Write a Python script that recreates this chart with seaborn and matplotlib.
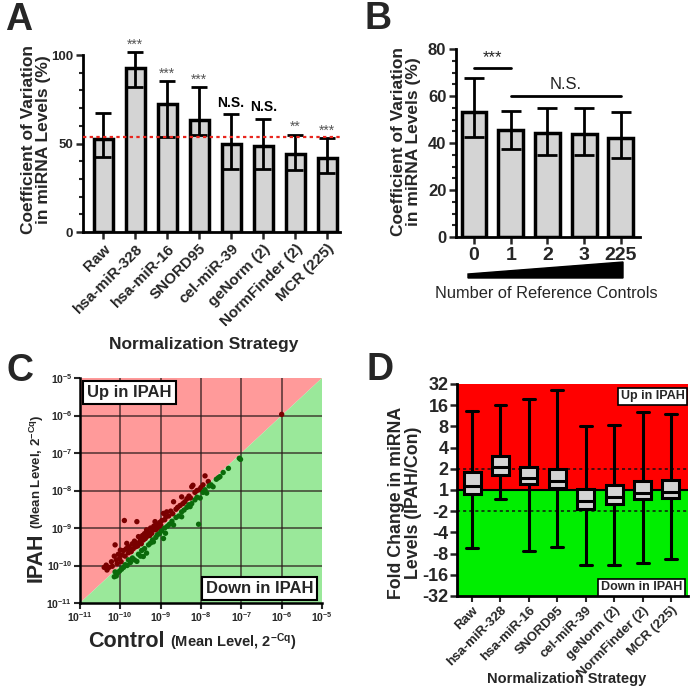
import numpy as np
import pandas as pd
import matplotlib
matplotlib.use('Agg')
import matplotlib.pyplot as plt
import seaborn as sns
from matplotlib.patches import Polygon
from matplotlib.ticker import MultipleLocator, FixedLocator, NullLocator

sns.set_theme(style='ticks')
plt.rcParams['font.family'] = ['Liberation Sans', 'DejaVu Sans']
plt.rcParams['mathtext.fontset'] = 'custom'
plt.rcParams['mathtext.rm'] = 'Liberation Sans'
plt.rcParams['mathtext.bf'] = 'Liberation Sans:bold'
plt.rcParams['mathtext.it'] = 'Liberation Sans:italic'

# ---------------- data ----------------
a_cats = ['Raw', 'hsa-miR-328', 'hsa-miR-16', 'SNORD95', 'cel-miR-39',
          'geNorm (2)', 'NormFinder (2)', 'MCR (225)']
a_cv = [52.8, 92.4, 72.2, 63.5, 49.8, 48.6, 43.9, 42.0]
a_lo = [42.4, 82.0, 53.7, 54.7, 35.5, 35.5, 34.9, 33.3]
a_hi = [67.0, 101.5, 85.2, 81.8, 66.6, 63.9, 55.0, 53.0]
a_sig = ['', '***', '***', '***', 'N.S.', 'N.S.', '**', '***']
a_ref = 53.5

b_cats = ['0', '1', '2', '3', '225']
b_cv = [53.4, 45.6, 44.1, 43.8, 42.3]
b_lo = [42.7, 37.3, 34.9, 34.9, 33.5]
b_hi = [67.6, 53.8, 55.1, 54.8, 53.1]

# log10 mean levels (control, IPAH)
up_ctrl = [-10.40, -10.35, -10.33, -10.28, -10.22, -10.20, -10.15, -10.13, -10.10, -10.08,
           -10.05, -10.02, -10.00, -9.98, -9.95, -9.92, -9.90, -9.88, -9.85, -9.84,
           -9.80, -9.78, -9.75, -9.73, -9.70, -9.68, -9.65, -9.62, -9.60, -9.59,
           -9.57, -9.55, -9.52, -9.50, -9.48, -9.45, -9.43, -9.40, -9.38, -9.35,
           -9.33, -9.30, -9.27, -9.25, -9.22, -9.20, -9.17, -9.14, -9.12, -9.10,
           -9.07, -9.05, -9.02, -9.00, -8.97, -8.93, -8.90, -8.87, -8.85, -8.80,
           -8.75, -8.70, -8.68, -8.62, -8.58, -8.52, -8.48, -8.45, -8.40, -8.35,
           -8.30, -8.26, -8.23, -8.20, -8.15, -8.10, -8.04, -8.00, -7.95, -7.90,
           -7.82, -6.00]
up_ipah = [-10.05, -9.99, -10.12, -10.05, -9.90, -10.02, -9.75, -9.45, -9.85, -9.95,
           -9.70, -9.82, -9.59, -9.90, -9.72, -9.60, -8.80, -9.75, -9.55, -9.41,
           -9.66, -9.50, -9.60, -9.63, -9.42, -9.55, -9.35, -9.50, -9.40, -8.83,
           -9.48, -9.23, -9.38, -9.30, -9.42, -9.20, -9.32, -9.15, -9.28, -9.05,
           -9.22, -9.12, -9.20, -9.00, -9.14, -9.05, -8.95, -8.83, -9.05, -8.97,
           -8.90, -9.00, -8.85, -8.92, -8.80, -8.61, -8.78, -8.70, -8.57, -8.68,
           -8.55, -8.62, -8.30, -8.50, -8.45, -8.40, -8.17, -8.35, -8.30, -8.22,
           -8.15, -8.20, -7.90, -7.86, -8.05, -8.00, -7.98, -7.92, -7.85, -7.61,
           -7.76, -5.97]
down_ctrl = [-10.15, -10.13, -10.10, -10.07, -10.02, -9.97, -9.92, -9.88, -9.83, -9.80,
             -9.75, -9.70, -9.65, -9.59, -9.55, -9.50, -9.47, -9.43, -9.40, -9.35,
             -9.30, -9.25, -9.20, -9.18, -9.12, -9.08, -9.03, -8.98, -8.93, -8.90,
             -8.88, -8.83, -8.78, -8.72, -8.68, -8.62, -8.55, -8.48, -8.48, -8.42,
             -8.35, -8.30, -8.27, -8.23, -8.15, -8.10, -8.06, -8.02, -7.95, -7.90,
             -7.86, -7.80, -7.75, -7.70, -7.62, -7.57, -7.53, -7.45, -7.32, -7.05,
             -7.02]
down_ipah = [-10.30, -10.17, -10.28, -10.20, -10.15, -10.10, -10.05, -9.98, -10.00, -9.85,
             -9.92, -9.80, -9.85, -9.89, -9.70, -9.75, -9.60, -9.76, -9.55, -9.67,
             -9.45, -9.40, -9.32, -9.37, -9.25, -9.18, -9.15, -9.08, -9.28, -9.00,
             -9.14, -8.95, -8.90, -8.82, -8.92, -8.72, -8.68, -8.70, -8.57, -8.52,
             -8.45, -8.38, -8.43, -8.35, -8.25, -8.18, -8.90, -8.20, -8.05, -7.98,
             -8.07, -7.88, -7.85, -7.90, -7.70, -7.66, -7.63, -7.52, -7.41, -7.14,
             -7.17]

d_cats = a_cats
# five-number summaries in log2 fold change: min, q1, median, q3, max
d_min = [-2.72, -0.42, -2.86, -2.70, -3.54, -3.54, -3.44, -3.27]
d_q1 = [-0.20, 0.72, 0.27, 0.11, -0.90, -0.67, -0.41, -0.36]
d_med = [0.20, 1.10, 0.55, 0.41, -0.52, -0.32, -0.13, -0.11]
d_q3 = [0.83, 1.60, 1.07, 0.98, 0.06, 0.24, 0.44, 0.47]
d_max = [3.74, 4.00, 4.29, 4.70, 3.02, 3.07, 3.66, 3.57]
d_ticklabels = ['-32', '-16', '-8', '-4', '-2', '1', '2', '4', '8', '16', '32']

# ---------------- figure ----------------
W, H = 693, 691
fig = plt.figure(figsize=(W / 100, H / 100), dpi=100)


def ax_px(l, t, r, b):
    return fig.add_axes([l / W, 1 - b / H, (r - l) / W, (b - t) / H])


def ftxt(x, y, s, **kw):
    return fig.text(x / W, 1 - y / H, s, **kw)


def style_spines(ax, lw=2.0):
    for s in ['top', 'right']:
        ax.spines[s].set_visible(False)
    for s in ['left', 'bottom']:
        ax.spines[s].set_color('black')
        ax.spines[s].set_linewidth(lw)


GRAY = '#d4d4d4'

# ---------------- Panel A ----------------
axA = ax_px(83, 55, 340, 232)
dfA = pd.DataFrame({'cat': a_cats, 'cv': a_cv})
sns.barplot(data=dfA, x='cat', y='cv', ax=axA, color=GRAY, edgecolor='black',
            linewidth=2.5, width=0.6, errorbar=None, saturation=1)
xa = np.arange(len(a_cats))
axA.errorbar(xa, a_cv, yerr=[np.array(a_cv) - np.array(a_lo), np.array(a_hi) - np.array(a_cv)],
             fmt='none', ecolor='black', elinewidth=2, capsize=6, capthick=2, clip_on=False, zorder=3)
axA.axhline(a_ref, color='#e8261e', ls=(0, (1.5, 1.5)), lw=1.6, zorder=4)
axA.set_ylim(0, 100)
axA.set_xlim(-0.63, 7.4)
axA.yaxis.set_major_locator(FixedLocator([0, 50, 100]))
axA.yaxis.set_minor_locator(MultipleLocator(10))
style_spines(axA)
axA.tick_params(axis='y', which='major', length=5, width=1.8, labelsize=9.5, pad=2)
axA.tick_params(axis='y', which='minor', length=3, width=1.5)
axA.tick_params(axis='x', length=5, width=1.8, pad=2)
for lab in axA.get_yticklabels():
    lab.set_fontweight('bold')
axA.set_xticks(xa)
axA.set_xticklabels(a_cats, rotation=45, ha='right', rotation_mode='anchor',
                    fontsize=11, fontweight='bold')
axA.set_xlabel('')
axA.set_ylabel('')
for i, s in enumerate(a_sig):
    if not s:
        continue
    if s == 'N.S.':
        axA.text(i, a_hi[i] + 2.5, s, ha='center', va='bottom', fontsize=10,
                 fontweight='bold', color='black')
    else:
        axA.text(i, a_hi[i] + 0.5, s, ha='center', va='bottom', fontsize=10,
                 color='#555555')
ftxt(36, 140, 'Coefficient of Variation\nin miRNA Levels (%)', rotation=90, ha='center',
     va='center', fontsize=12.5, fontweight='bold', linespacing=1.05)
ftxt(204, 345, 'Normalization Strategy', ha='center', va='center', fontsize=12.5,
     fontweight='bold')

# ---------------- Panel B ----------------
axB = ax_px(456, 49, 640, 237)
dfB = pd.DataFrame({'n': b_cats, 'cv': b_cv})
sns.barplot(data=dfB, x='n', y='cv', ax=axB, color=GRAY, edgecolor='black',
            linewidth=2.5, width=0.68, errorbar=None, saturation=1)
xb = np.arange(len(b_cats))
axB.errorbar(xb, b_cv, yerr=[np.array(b_cv) - np.array(b_lo), np.array(b_hi) - np.array(b_cv)],
             fmt='none', ecolor='black', elinewidth=2, capsize=7, capthick=2, zorder=3)
axB.set_ylim(0, 80)
axB.set_xlim(-0.49, 4.52)
axB.yaxis.set_major_locator(MultipleLocator(20))
axB.yaxis.set_minor_locator(MultipleLocator(5))
style_spines(axB)
axB.tick_params(axis='y', which='major', length=5, width=1.8, labelsize=12, pad=2)
axB.tick_params(axis='y', which='minor', length=3, width=1.5)
axB.tick_params(axis='x', length=5, width=1.8, labelsize=14, pad=2)
for lab in axB.get_yticklabels() + axB.get_xticklabels():
    lab.set_fontweight('bold')
axB.set_xlabel('')
axB.set_ylabel('')
axB.plot([0, 1], [71.9, 71.9], color='black', lw=2)
axB.text(0.5, 73.0, '***', ha='center', va='bottom', fontsize=12, color='#222222')
axB.plot([1, 4], [60.2, 60.2], color='black', lw=2)
axB.text(2.5, 61.5, 'N.S.', ha='center', va='bottom', fontsize=12, color='#222222')
ftxt(406, 142, 'Coefficient of Variation\nin miRNA Levels (%)', rotation=90, ha='center',
     va='center', fontsize=12.5, fontweight='bold', linespacing=1.05)
wedge = Polygon([(468 / W, 1 - 274 / H), (623 / W, 1 - 262 / H), (623 / W, 1 - 278 / H),
                 (468 / W, 1 - 278 / H)], closed=True, transform=fig.transFigure,
                facecolor='black', edgecolor='black')
fig.patches.append(wedge)
ftxt(546, 293, 'Number of Reference Controls', ha='center', va='center', fontsize=11.8)

# ---------------- Panel C ----------------
axC = ax_px(80, 378, 322, 603)
axC.set_xscale('log')
axC.set_yscale('log')
axC.set_xlim(1e-11, 1e-5)
axC.set_ylim(1e-11, 1e-5)
axC.fill([1e-11, 1e-5, 1e-11], [1e-11, 1e-5, 1e-5], color='#ff9a9a', zorder=0, lw=0)
axC.fill([1e-11, 1e-5, 1e-5], [1e-11, 1e-5, 1e-11], color='#9ae89a', zorder=0, lw=0)
dfC = pd.DataFrame({
    'control': 10 ** np.array(up_ctrl + down_ctrl),
    'ipah': 10 ** np.array(up_ipah + down_ipah),
    'group': ['Up'] * len(up_ctrl) + ['Down'] * len(down_ctrl),
})
decades = 10.0 ** np.arange(-11, -4)
for d in decades[1:-1]:
    axC.axvline(d, color='#2a1a1a', alpha=0.75, lw=1.2, zorder=1)
    axC.axhline(d, color='#2a1a1a', alpha=0.75, lw=1.2, zorder=1)
sns.scatterplot(data=dfC, x='control', y='ipah', hue='group',
                palette={'Up': '#7a0000', 'Down': '#0a6a0a'}, s=15, linewidth=0,
                legend=False, ax=axC, zorder=3)
style_spines(axC, lw=1.8)
axC.xaxis.set_major_locator(FixedLocator(decades))
axC.yaxis.set_major_locator(FixedLocator(decades))
axC.xaxis.set_minor_locator(NullLocator())
axC.yaxis.set_minor_locator(NullLocator())
labsC = [r'$\mathbf{10^{%d}}$' % e for e in range(-11, -4)]
axC.set_xticklabels(labsC, fontsize=7.5)
axC.set_yticklabels(labsC, fontsize=7.5)
axC.tick_params(length=4, width=1.5, pad=1.5)
axC.set_xlabel('')
axC.set_ylabel('')
axC.text(0.205, 0.936, 'Up in IPAH', transform=axC.transAxes, ha='center', va='center',
         fontsize=12, fontweight='bold',
         bbox=dict(boxstyle='square,pad=0.25', facecolor='white', edgecolor='black', lw=1.5),
         zorder=5)
axC.text(0.742, 0.064, 'Down in IPAH', transform=axC.transAxes, ha='center', va='center',
         fontsize=12, fontweight='bold',
         bbox=dict(boxstyle='square,pad=0.25', facecolor='white', edgecolor='black', lw=1.5),
         zorder=5)
ftxt(47, 582, 'IPAH', rotation=90, ha='right', va='bottom', fontsize=15.5, fontweight='bold')
ftxt(46, 529, r'(Mean Level, 2$^{\mathbf{-Cq}}$)', rotation=90, ha='right', va='bottom',
     fontsize=9.5, fontweight='bold')
ftxt(88, 647, 'Control', ha='left', va='baseline', fontsize=15.5, fontweight='bold')
ftxt(170, 647, r'(Mean Level, 2$^{\mathbf{-Cq}}$)', ha='left', va='baseline', fontsize=10.5,
     fontweight='bold')

# ---------------- Panel D ----------------
axD = ax_px(457, 384, 688, 596)
axD.axhspan(0, 5, color='#ff0000', zorder=0, lw=0)
axD.axhspan(-5, 0, color='#00ee00', zorder=0, lw=0)
rows = []
for i, c in enumerate(d_cats):
    for v in (d_min[i], d_q1[i], d_med[i], d_q3[i], d_max[i]):
        rows.append((c, v))
dfD = pd.DataFrame(rows, columns=['strategy', 'log2fc'])
sns.boxplot(data=dfD, x='strategy', y='log2fc', order=d_cats, whis=(0, 100), width=0.6,
            color=GRAY, linecolor='black', linewidth=2.2, fliersize=0, saturation=1,
            ax=axD, capwidths=0.42)
axD.axhline(0, color='black', lw=1.5, zorder=1)
axD.axhline(1, color='#111111', ls=(0, (2, 2)), lw=1.1, zorder=1)
axD.axhline(-1, color='#111111', ls=(0, (2, 2)), lw=1.1, zorder=1)
axD.set_ylim(-5, 5)
axD.set_xlim(-0.53, 7.6)
axD.set_yticks(np.arange(-5, 6))
axD.set_yticklabels(d_ticklabels, fontsize=13, fontweight='bold')
style_spines(axD)
axD.tick_params(axis='y', length=5, width=1.8, pad=1)
axD.tick_params(axis='x', length=4, width=1.5, pad=2)
axD.set_xticks(np.arange(len(d_cats)))
axD.set_xticklabels(d_cats, rotation=45, ha='right', rotation_mode='anchor', fontsize=9.5,
                    fontweight='bold')
axD.set_xlabel('')
axD.set_ylabel('')
axD.text(0.848, 0.943, 'Up in IPAH', transform=axD.transAxes, ha='center', va='center',
         fontsize=9, fontweight='bold',
         bbox=dict(boxstyle='square,pad=0.2', facecolor='white', edgecolor='black', lw=1.2),
         zorder=6)
axD.text(0.799, 0.042, 'Down in IPAH', transform=axD.transAxes, ha='center', va='center',
         fontsize=9, fontweight='bold',
         bbox=dict(boxstyle='square,pad=0.2', facecolor='white', edgecolor='black', lw=1.2),
         zorder=6)
ftxt(405, 503, 'Fold Change in miRNA\nLevels (IPAH/Con)', rotation=90, ha='center',
     va='center', fontsize=12.8, fontweight='bold', linespacing=1.05)
ftxt(567, 679, 'Normalization Strategy', ha='center', va='center', fontsize=10.5,
     fontweight='bold')

# ---------------- panel letters ----------------
for (x, y, s) in [(19, 20, 'A'), (378, 19, 'B'), (20, 371, 'C'), (380, 370, 'D')]:
    ftxt(x, y, s, ha='center', va='center', fontsize=27, fontweight='bold')

fig.savefig('out.png', dpi=100)
